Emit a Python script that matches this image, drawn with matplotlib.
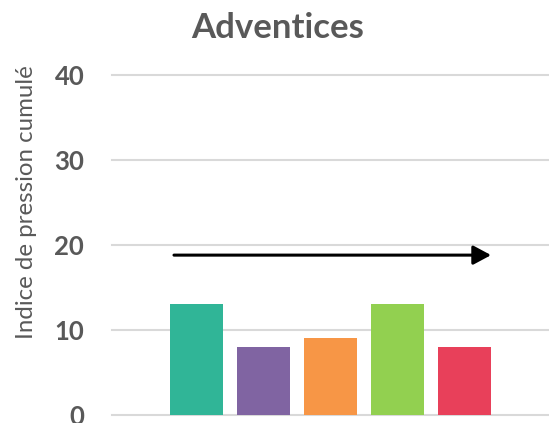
import matplotlib.pyplot as plt

# Bar values per modality
categories = ['A', 'B', 'C', 'D', 'E']
values = [13, 8, 9, 13, 8]
colors = ['#30B597', '#8064A2', '#F79646', '#92D050', '#E8405A']
yticks = [0, 10, 20, 30, 40]

# Arrow spanning the bars
arrow_y = 18.8
arrow_x = [-0.336, 4.396]

text_color = '#595959'
plt.rcParams['font.family'] = ['Lato', 'DejaVu Sans']

fig = plt.figure(figsize=(5.49, 4.23), dpi=100)
ax = fig.add_axes([0.204, 0.019, 0.796, 0.804])

x = list(range(len(categories)))
ax.bar(x, values, width=0.79, color=colors, zorder=3)

# Arrow over the bars
ax.annotate('', xy=(arrow_x[1], arrow_y), xytext=(arrow_x[0], arrow_y),
            arrowprops=dict(arrowstyle='-|>,head_length=1.08,head_width=0.58',
                            color='black', lw=2.2, shrinkA=0, shrinkB=0),
            zorder=4)

ax.set_xlim(-1.261, 5.261)
ax.set_ylim(0, 40)
ax.set_yticks(yticks)
ax.set_yticklabels([str(t) for t in yticks], fontsize=18.5, fontweight='bold', color=text_color)
ax.set_xticks([])
ax.tick_params(axis='y', length=0, pad=20)

# Horizontal gridlines only
ax.grid(True, axis='y', color='#D9D9D9', linewidth=1.5, zorder=0)
for line in ax.get_ygridlines():
    line.set_clip_on(False)
for spine in ax.spines.values():
    spine.set_visible(False)

fig.text(27 / 549, 1 - 202 / 423, 'Indice de pression cumulé', rotation=90,
         ha='center', va='center', fontsize=17.3, color=text_color)
fig.text(0.505, 0.934, 'Adventices', ha='center', va='center',
         fontsize=25, fontweight='bold', color=text_color)

plt.savefig('out.png', dpi=100)
plt.close()
